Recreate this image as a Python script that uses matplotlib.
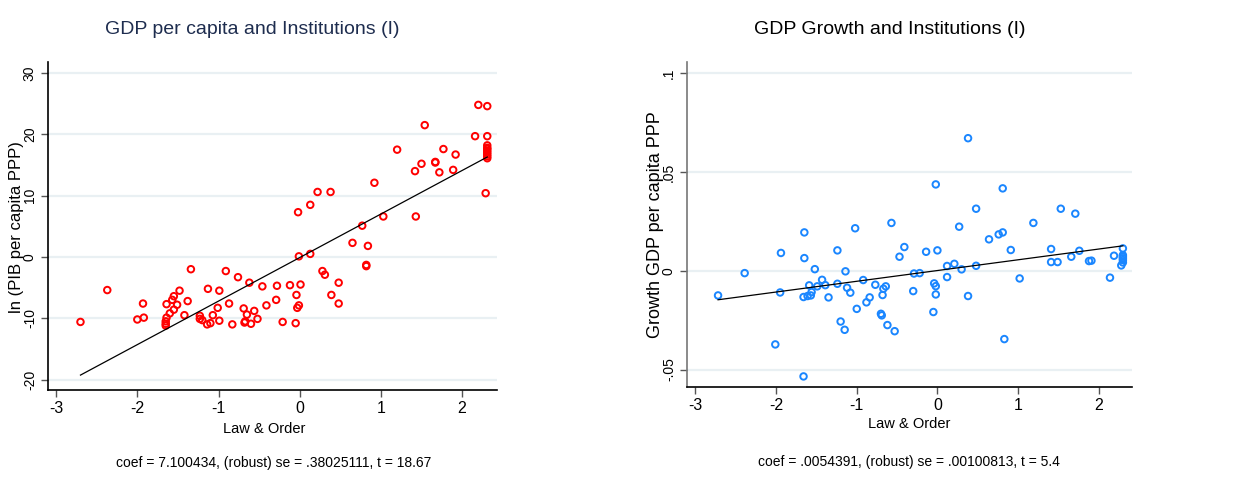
import numpy as np
import matplotlib
matplotlib.use("Agg")
import matplotlib.pyplot as plt

# Law & Order index vs ln GDP per capita (left panel)
law_left = [-2.70, -2.37, -2.00, -1.93, -1.92, -1.64, -1.64, -1.65, -1.65, -1.65,
            -1.60, -1.57, -1.55, -1.55, -1.51, -1.48, -1.42, -1.38, -1.34, -1.23,
            -1.23, -1.20, -1.13, -1.14, -1.10, -1.07, -1.01, -0.99, -0.99, -0.91,
            -0.87, -0.83, -0.76, -0.69, -0.68, -0.67, -0.65, -0.62, -0.60, -0.56,
            -0.52, -0.46, -0.41, -0.29, -0.28, -0.21, -0.12, -0.05, -0.04, -0.03,
            -0.01, -0.02, -0.01, 0.01, 0.13, 0.13, 0.22, 0.28, 0.31, 0.38,
            0.39, 0.48, 0.48, 0.65, 0.77, 0.82, 0.82, 0.84, 0.92, 1.03,
            1.20, 1.42, 1.43, 1.50, 1.54, 1.67, 1.67, 1.72, 1.77, 1.89,
            1.92, 2.16, 2.20, 2.31, 2.31, 2.29, 2.31, 2.31, 2.31, 2.31,
            2.31, 2.31, 2.31, 2.31]
gdp_left = [-10.6, -5.4, -10.2, -7.6, -9.9, -7.7, -9.9, -10.5, -10.9, -11.2,
            -9.2, -7.0, -6.4, -8.6, -7.8, -5.5, -9.5, -7.2, -2.0, -9.6,
            -10.1, -10.3, -5.2, -11.0, -10.8, -9.5, -8.3, -5.5, -10.4, -2.3,
            -7.6, -11.0, -3.3, -8.4, -10.7, -10.5, -9.4, -4.2, -10.9, -8.8,
            -10.1, -4.8, -7.9, -7.0, -4.7, -10.6, -4.6, -10.8, -6.2, -8.3,
            -7.9, 7.3, 0.1, -4.5, 8.5, 0.5, 10.6, -2.3, -2.9, 10.6,
            -6.2, -4.2, -7.6, 2.3, 5.1, -1.3, -1.5, 1.8, 12.1, 6.6,
            17.5, 14.0, 6.6, 15.2, 21.5, 15.5, 15.4, 13.8, 17.6, 14.2,
            16.7, 19.7, 24.8, 24.6, 19.7, 10.4, 18.2, 17.8, 17.6, 17.3,
            17.0, 16.7, 16.4, 16.1]

# Law & Order index vs GDP growth (right panel)
law_right = [-2.72, -2.39, -2.01, -1.95, -1.94, -1.66, -1.66, -1.65, -1.65, -1.61,
             -1.59, -1.57, -1.56, -1.52, -1.49, -1.43, -1.39, -1.35, -1.24, -1.24,
             -1.20, -1.15, -1.14, -1.12, -1.08, -1.02, -1.00, -0.92, -0.88, -0.84,
             -0.77, -0.70, -0.69, -0.68, -0.67, -0.64, -0.62, -0.57, -0.53, -0.47,
             -0.41, -0.30, -0.29, -0.22, -0.14, -0.05, -0.04, -0.02, -0.02, -0.02,
             0.00, 0.12, 0.12, 0.21, 0.27, 0.30, 0.38, 0.38, 0.48, 0.48,
             0.64, 0.76, 0.81, 0.81, 0.83, 0.91, 1.02, 1.19, 1.41, 1.41,
             1.49, 1.53, 1.66, 1.71, 1.76, 1.88, 1.91, 2.14, 2.19, 2.28,
             2.30, 2.30, 2.30, 2.30, 2.30, 2.30]
growth_right = [-0.0125, -0.0012, -0.0373, -0.0110, 0.0090, -0.0535, -0.0133, 0.0064, 0.0194, -0.0128,
                -0.0074, -0.0125, -0.0108, 0.0008, -0.0079, -0.0046, -0.0073, -0.0135, -0.0066, 0.0103,
                -0.0257, -0.0299, -0.0003, -0.0086, -0.0111, 0.0215, -0.0193, -0.0047, -0.0160, -0.0135,
                -0.0071, -0.0218, -0.0226, -0.0123, -0.0091, -0.0079, -0.0275, 0.0242, -0.0306, 0.0071,
                0.0120, -0.0103, -0.0014, -0.0012, 0.0096, -0.0209, -0.0064, 0.0437, -0.0120, -0.0078,
                0.0103, -0.0032, 0.0024, 0.0035, 0.0223, 0.0007, -0.0128, 0.0671, 0.0314, 0.0025,
                0.0159, 0.0184, 0.0194, 0.0417, -0.0346, 0.0105, -0.0039, 0.0242, 0.0044, 0.0110,
                0.0044, 0.0314, 0.0071, 0.0289, 0.0101, 0.0049, 0.0051, -0.0035, 0.0076, 0.0027,
                0.0113, 0.0079, 0.0071, 0.0063, 0.0054, 0.0042]

# regression results (from the captions), intercepts
coef_left, cons_left = 7.100434, -0.1
coef_right, cons_right = 0.0054391, 0.0001

xticks = [-3, -2, -1, 0, 1, 2]
yticks_left = [-20, -10, 0, 10, 20, 30]
yticks_right = [-0.05, 0, 0.05, 0.1]
yticklabels_right = ["-.05", "0", ".05", ".1"]

FONT = ["Liberation Sans", "DejaVu Sans"]
GRID = "#e9f0f3"


def panel(ax, x, y, coef, cons, color, yticks, ylabels, spine_col):
    for t in yticks:
        ax.axhline(t, color=GRID, lw=1.6, zorder=0)
    ax.scatter(x, y, s=22, facecolors="none", edgecolors=color, linewidths=1.4, zorder=3)
    xs = np.array([min(x), max(x)])
    ax.plot(xs, cons + coef * xs, color="black", lw=0.9, zorder=4)
    ax.set_xticks(xticks)
    ax.set_xticklabels([str(v) for v in xticks], family=FONT, fontsize=11.5)
    ax.set_yticks(yticks)
    ax.set_yticklabels(ylabels, family=FONT, fontsize=10, rotation=90, va="center")
    ax.tick_params(axis="both", direction="out", length=5, width=1, color="#555555", pad=3)
    ax.spines["top"].set_visible(False)
    ax.spines["right"].set_visible(False)
    ax.spines["left"].set_color(spine_col)
    ax.spines["bottom"].set_color("black")
    ax.spines["left"].set_linewidth(1.2)
    ax.spines["bottom"].set_linewidth(1.2)


fig = plt.figure(figsize=(12.5, 4.82), dpi=100)

ax1 = fig.add_axes([0.0384, 0.1909, 0.3592, 0.6805])
panel(ax1, law_left, gdp_left, coef_left, cons_left, "#ff0000",
      yticks_left, [str(v) for v in yticks_left], "black")
ax1.set_xlim(-3.10, 2.43)
ax1.set_ylim(-21.7, 31.8)

ax2 = fig.add_axes([0.5496, 0.1965, 0.3558, 0.675])
panel(ax2, law_right, growth_right, coef_right, cons_right, "#1a86ff",
      yticks_right, yticklabels_right, "#777777")
ax2.set_xlim(-3.105, 2.41)
ax2.set_ylim(-0.059, 0.1057)

# titles, axis labels and captions in figure pixels
def ftext(px, py, s, **kw):
    fig.text(px / 1250, 1 - py / 482, s, ha="center", va="center", family=FONT, **kw)

ftext(252.5, 30, "GDP per capita and Institutions (I)", fontsize=14, color="#1e2d4f")
ftext(889.7, 30, "GDP Growth and Institutions (I)", fontsize=14, color="black")
ftext(264, 429, "Law & Order", fontsize=10.5)
ftext(909, 424, "Law & Order", fontsize=10.5)
ftext(16.7, 226.7, "ln (PIB per capita PPP)", fontsize=12, rotation=90)
ftext(655.8, 225, "Growth GDP per capita PPP", fontsize=13, rotation=90)
ftext(273.8, 463, "coef = 7.100434, (robust) se = .38025111, t = 18.67", fontsize=10)
ftext(908.7, 461.7, "coef = .0054391, (robust) se = .00100813, t = 5.4", fontsize=10)

fig.savefig("out.png", dpi=100)
